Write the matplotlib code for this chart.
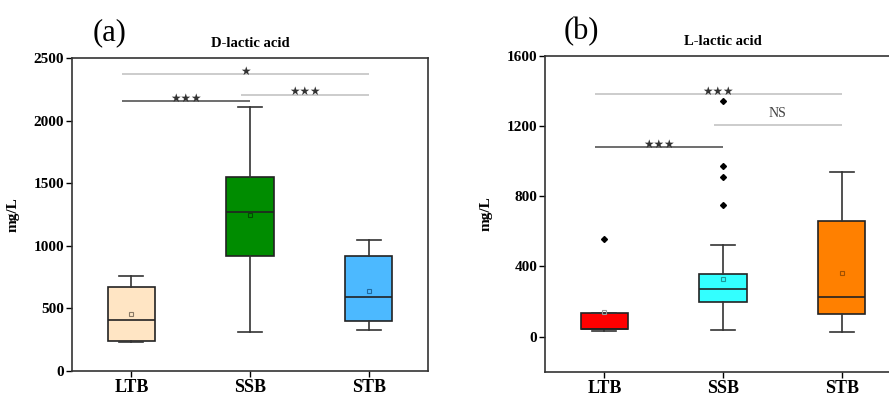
import matplotlib
matplotlib.use("Agg")
import matplotlib.pyplot as plt

plt.rcParams["font.family"] = ["Liberation Serif", "DejaVu Serif"]

groups = ["LTB", "SSB", "STB"]

# D-lactic acid (mg/L)
d_q1 = [240, 921, 397]
d_med = [407, 1270, 588]
d_q3 = [668, 1547, 916]
d_lo = [232, 309, 330]
d_hi = [761, 2106, 1049]
d_mean = [455, 1248, 639]
d_fliers = [[], [], []]
d_colors = ["#FFE5C4", "#008C00", "#4CB9FF"]
d_mean_ec = ["#8a7a66", "#004d00", "#1f6aa0"]

# L-lactic acid (mg/L)
l_q1 = [42, 196, 129]
l_med = [45, 270, 226]
l_q3 = [133, 357, 661]
l_lo = [32, 38, 27]
l_hi = [133, 525, 939]
l_mean = [139, 329, 361]
l_fliers = [[557], [753, 912, 975, 1346], []]
l_colors = ["#FF0000", "#33FFFF", "#FF8000"]
l_mean_ec = ["#999999", "#1a9a9a", "#a05000"]

# significance brackets: (from, to, y, label, dark line?)
d_sig = [(1, 3, 2372, "\u2605", False), (1, 2, 2157, "\u2605\u2605\u2605", True),
         (2, 3, 2207, "\u2605\u2605\u2605", False)]
l_sig = [(1, 3, 1382, "\u2605\u2605\u2605", False), (1, 2, 1080, "\u2605\u2605\u2605", True),
         (2, 3, 1207, "NS", False)]

fig = plt.figure(figsize=(8.89, 3.98), dpi=100)
fig.patch.set_facecolor("white")
ax_a = fig.add_axes([72/889, 1-371/398, 356/889, 313/398])
ax_b = fig.add_axes([545/889, 1-371.7/398, 356/889, 315.7/398])


def panel(ax, q1, med, q3, lo, hi, mean, fliers, colors, mean_ec, ylim, yticks, title, sig):
    stats = []
    for i in range(len(groups)):
        stats.append(dict(q1=q1[i], med=med[i], q3=q3[i], whislo=lo[i], whishi=hi[i],
                          mean=mean[i], fliers=fliers[i], label=groups[i]))
    res = ax.bxp(stats, positions=[1, 2, 3], widths=0.4, capwidths=0.2, patch_artist=True,
                 showmeans=True,
                 boxprops=dict(ec="#222222", lw=1.2),
                 medianprops=dict(color="#222222", lw=1.2),
                 whiskerprops=dict(color="#333333", lw=1.2),
                 capprops=dict(color="#333333", lw=1.2),
                 meanprops=dict(marker="s", ms=3, mfc="none", mec="#666666", mew=0.8),
                 flierprops=dict(marker="D", ms=3, mfc="black", mec="black"))
    for patch, c in zip(res["boxes"], colors):
        patch.set_facecolor(c)
    for m, c in zip(res["means"], mean_ec):
        m.set_markeredgecolor(c)
    ax.set_xlim(0.5, 3.5)
    ax.set_ylim(*ylim)
    ax.set_yticks(yticks)
    ax.tick_params(direction="out", length=4, width=1, pad=1.5, labelsize=11)
    ax.tick_params(axis="x", pad=2, labelsize=13)
    for lab in ax.get_xticklabels() + ax.get_yticklabels():
        lab.set_fontweight("bold")
    for s in ax.spines.values():
        s.set_linewidth(1.2)
        s.set_color("#333333")
    ax.set_title(title, fontsize=10.5, fontweight="bold", pad=8)
    ax.set_ylabel("mg/L", fontsize=11, fontweight="bold")
    ax.yaxis.set_label_coords(-52/356, 0.5)
    for x0, x1, y, lab, dark in sig:
        ax.plot([x0 - 0.08, x1], [y, y], color="#555555" if dark else "#C4C4C4", lw=1.2,
                solid_capstyle="butt")
        xm = (x0 - 0.08 + x1) / 2
        if lab == "NS":
            ax.text(xm, y + (ylim[1]-ylim[0])*0.015, lab, ha="center", va="bottom",
                    fontsize=10, color="#444444")
        else:
            ax.text(xm, y - (ylim[1]-ylim[0])*0.012, lab, ha="center", va="bottom",
                    fontsize=8.5, color="#333333", family="DejaVu Sans")


panel(ax_a, d_q1, d_med, d_q3, d_lo, d_hi, d_mean, d_fliers, d_colors, d_mean_ec,
      (0, 2500), [0, 500, 1000, 1500, 2000, 2500], "D-lactic acid", d_sig)
panel(ax_b, l_q1, l_med, l_q3, l_lo, l_hi, l_mean, l_fliers, l_colors, l_mean_ec,
      (-200, 1600), [0, 400, 800, 1200, 1600], "L-lactic acid", l_sig)

fig.text(110/889, 1-33/398, "(a)", fontsize=22, ha="center", va="center")
fig.text(581.7/889, 1-31.7/398, "(b)", fontsize=22, ha="center", va="center")

fig.savefig("out.png", dpi=100, facecolor="white")
